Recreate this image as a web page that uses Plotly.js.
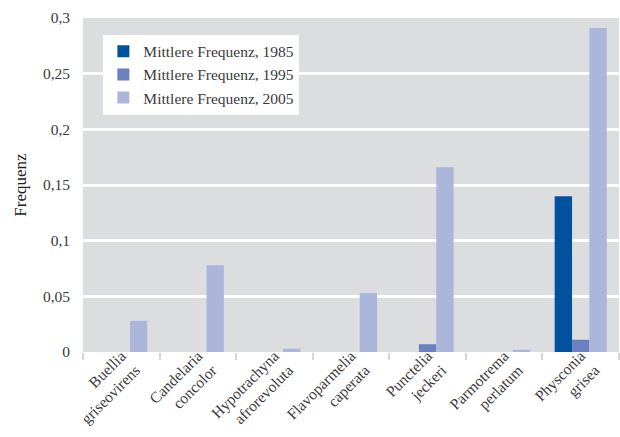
<!DOCTYPE html>
<html><head><meta charset="utf-8">
<script src="https://cdn.plot.ly/plotly-3.0.1.min.js"></script>
<style>html,body{margin:0;padding:0;background:#fff}#chart{width:620px;height:437px}</style>
</head><body><div id="chart"></div>
<script>
const categories = ["Buellia<br>griseovirens","Candelaria<br>concolor","Hypotrachyna<br>afrorevoluta","Flavoparmelia<br>caperata","Punctelia<br>jeckeri","Parmotrema<br>perlatum","Physconia<br>grisea"];
const seriesNames = ["Mittlere Frequenz, 1985","Mittlere Frequenz, 1995","Mittlere Frequenz, 2005"];
const freq1985 = [0, 0, 0, 0, 0, 0, 0.140];
const freq1995 = [0, 0, 0, 0, 0.007, 0, 0.011];
const freq2005 = [0.028, 0.078, 0.003, 0.053, 0.166, 0.002, 0.291];
const colors = ["#00519e", "#6b80c0", "#abb6da"];
const yTicks = [0, 0.05, 0.1, 0.15, 0.2, 0.25, 0.3];
const yTickText = ["0", "0,05", "0,1", "0,15", "0,2", "0,25", "0,3"];

const font = {family: "Liberation Serif, DejaVu Serif, serif", size: 15, color: "#3a3a3a"};
const allSeries = [freq1985, freq1995, freq2005];
const data = allSeries.map((vals, i) => ({
  type: "bar", x: categories, y: vals, name: seriesNames[i],
  marker: {color: colors[i]}, hoverinfo: "skip"
}));
const layout = {
  width: 620, height: 437,
  margin: {l: 83, r: 1, t: 18, b: 85},
  paper_bgcolor: "#ffffff", plot_bgcolor: "#dcdddf",
  font: font,
  barmode: "group", bargap: 0.32, bargroupgap: 0,
  showlegend: true,
  legend: {x: 0.038, y: 0.95, xanchor: "left", yanchor: "top", bgcolor: "#ffffff",
    font: {family: font.family, size: 15.5, color: "#3a3a3a"}, traceorder: "normal",
    itemwidth: 30, tracegroupgap: 0, borderwidth: 0},
  xaxis: {tickangle: -45, ticks: "outside", tickson: "boundaries", ticklen: 7, tickwidth: 2,
    tickcolor: "#d6d6d6", showgrid: false, zeroline: false, showline: false, automargin: false,
    ticklabelstandoff: -9,
    tickfont: {family: font.family, size: 15.5, color: "#3a3a3a"}},
  yaxis: {range: [0, 0.3], tickvals: yTicks, ticktext: yTickText, showgrid: true,
    gridcolor: "#ffffff", gridwidth: 3, zeroline: false, showline: false, ticks: "",
    ticklen: 0, automargin: false, ticklabelstandoff: 12,
    title: {text: "Frequenz", font: {family: font.family, size: 17, color: "#222"}, standoff: 11},
    tickfont: {family: font.family, size: 15.5, color: "#3a3a3a"}}
};
Plotly.newPlot("chart", data, layout, {displayModeBar: false, staticPlot: true});
</script></body></html>
